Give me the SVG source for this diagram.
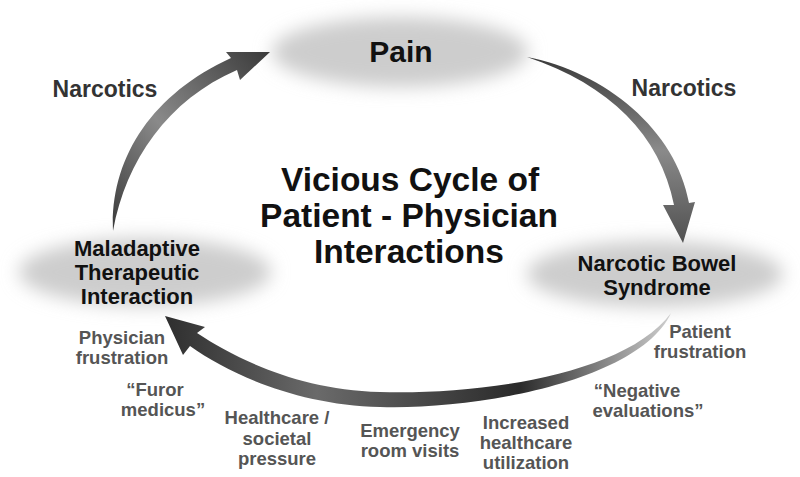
<svg xmlns="http://www.w3.org/2000/svg" width="800" height="477" viewBox="0 0 800 477">
<defs>
<filter id="blur" x="-30%" y="-50%" width="160%" height="200%"><feGaussianBlur stdDeviation="9"/></filter>
<linearGradient id="gL" x1="0" y1="1" x2="1" y2="0"><stop offset="0" stop-color="#3a3a3a"/><stop offset="0.45" stop-color="#8a8a8a"/><stop offset="1" stop-color="#3a3a3a"/></linearGradient>
<linearGradient id="gR" x1="0" y1="0" x2="0" y2="1"><stop offset="0" stop-color="#3a3a3a"/><stop offset="0.5" stop-color="#8a8a8a"/><stop offset="1" stop-color="#505050"/></linearGradient>
<linearGradient id="gB" x1="1" y1="0" x2="0" y2="0"><stop offset="0" stop-color="#cfcfcf"/><stop offset="0.3" stop-color="#2a2a2a"/><stop offset="0.7" stop-color="#6a6a6a"/><stop offset="1" stop-color="#2e2e2e"/></linearGradient>
</defs>
<style>
text{font-family:"Liberation Sans",Arial,sans-serif;font-weight:bold;text-anchor:middle}
.node{fill:#cdcdcd}
.nl{fill:#111;font-size:22px}
.title{fill:#111;font-size:33.5px}
.lab{fill:#555;font-size:18.5px}
</style>
<rect width="800" height="477" fill="#fff"/>
<g id="node-pain">
<ellipse class="node" cx="400" cy="52" rx="128" ry="35" filter="url(#blur)"/>
<text x="401" y="62" style="font-size:30px;fill:#111">Pain</text>
</g>
<g id="node-maladaptive">
<ellipse class="node" cx="145" cy="272" rx="126" ry="34" filter="url(#blur)"/>
<text class="nl" x="137" y="256">Maladaptive</text>
<text class="nl" x="137" y="280">Therapeutic</text>
<text class="nl" x="137" y="304">Interaction</text>
</g>
<g id="node-nbs">
<ellipse class="node" cx="655" cy="274" rx="128" ry="33" filter="url(#blur)"/>
<text class="nl" x="657" y="271">Narcotic Bowel</text>
<text class="nl" x="657" y="295">Syndrome</text>
</g>
<g id="title">
<text class="title" x="410" y="191">Vicious Cycle of</text>
<text class="title" x="409" y="227">Patient - Physician</text>
<text class="title" x="409" y="263">Interactions</text>
</g>
<g id="connectors">
<path d="M113,231 C110,160 150,95 231,58 L226,52 L270,52 L240,80 L237,70 C168,100 126,160 113,231 Z" fill="url(#gL)"/>
<path d="M527,57 C605,72 676,130 689,203 L695,202 L683,243 L663,205 L674,205 C660,135 610,85 527,57 Z" fill="url(#gR)"/>
<path d="M671,313 C640,380 480,410 380,407 C300,405 232,376 190,346 L183,355 L165,316 L205,327 L197,333 C238,360 300,390 380,392 C480,395 625,375 671,313 Z" fill="url(#gB)"/>
</g>
<g id="labels">
<text class="lab" x="105" y="97" style="font-size:23px;fill:#333">Narcotics</text>
<text class="lab" x="684" y="96" style="font-size:23px;fill:#333">Narcotics</text>
<text class="lab" x="122" y="344">Physician</text>
<text class="lab" x="122" y="364">frustration</text>
<text class="lab" x="155" y="396">“Furor</text>
<text class="lab" x="163" y="416">medicus”</text>
<text class="lab" x="277" y="424">Healthcare /</text>
<text class="lab" x="277" y="445">societal</text>
<text class="lab" x="277" y="465">pressure</text>
<text class="lab" x="410" y="437">Emergency</text>
<text class="lab" x="410" y="457">room visits</text>
<text class="lab" x="526" y="429">Increased</text>
<text class="lab" x="526" y="449">healthcare</text>
<text class="lab" x="526" y="469">utilization</text>
<text class="lab" x="637" y="397">“Negative</text>
<text class="lab" x="648" y="417">evaluations”</text>
<text class="lab" x="700" y="338">Patient</text>
<text class="lab" x="700" y="358">frustration</text>
</g>
</svg>
